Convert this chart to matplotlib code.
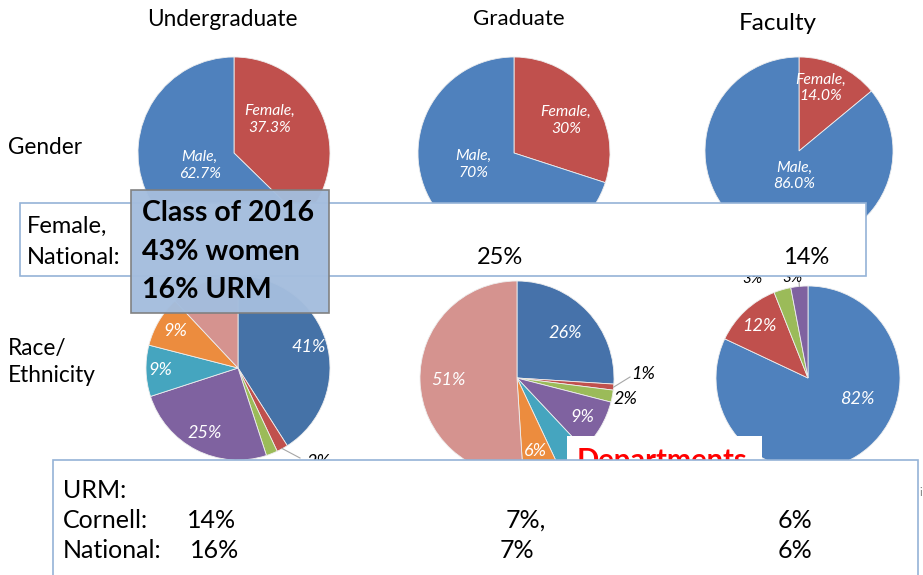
import numpy as np
import matplotlib.pyplot as plt
from matplotlib.patches import Rectangle

plt.rcParams['font.family'] = ['Lato', 'DejaVu Sans']

W, H = 923, 575

# data
columns = ["Undergraduate", "Graduate", "Faculty"]
gender_values = [[37.3, 62.7], [30, 70], [14.0, 86.0]]
gender_labels = [["Female,\n37.3%", "Male,\n62.7%"],
                 ["Female,\n30%", "Male,\n70%"],
                 ["Female,\n14.0%", "Male,\n86.0%"]]

race_ug = [41, 2, 2, 25, 9, 9, 12]
race_grad = [26, 1, 2, 9, 5, 6, 51]
race_fac = [82, 12, 3, 3]

female_national = ["", "25%", "14%"]
urm_cornell = ["14%", "7%,", "6%"]
urm_national = ["16%", "7%", "6%"]
class_2016 = ["Class of 2016", "43% women", "16% URM"]

blue = '#4f81bd'
red = '#c0504d'
green = '#9bbb59'
purple = '#7f62a0'
teal = '#45a5bf'
orange = '#ec8c3e'
pink = '#d5938f'


def Y(py):
    return H - py


fig = plt.figure(figsize=(W / 100, H / 100), dpi=100)
ax = fig.add_axes([0, 0, 1, 1])


def pie(vals, colors, cx, cy, r):
    wedges, _ = ax.pie(vals, colors=colors, startangle=90, counterclock=False,
                       center=(cx, Y(cy)), radius=r,
                       wedgeprops=dict(edgecolor='#eeeeee', linewidth=0.6))
    for w in wedges:
        w.set_zorder(1)
    return wedges


def put(w, cx, cy, r, d, txt, dth=0, color='white', size=13):
    th = np.deg2rad((w.theta1 + w.theta2) / 2 + dth)
    ax.text(cx + r * d * np.cos(th), Y(cy) + r * d * np.sin(th), txt,
            color=color, style='italic', fontsize=size,
            ha='center', va='center', zorder=2, linespacing=1.25)


def lead(w, cx, cy, r, x2, y2, txt, tx, ty, size=13):
    th = np.deg2rad((w.theta1 + w.theta2) / 2)
    x1, y1 = cx + r * np.cos(th), Y(cy) + r * np.sin(th)
    ax.plot([x1, x2], [y1, Y(y2)], color='#a6a6a6', lw=0.8, zorder=2)
    ax.text(tx, Y(ty), txt, style='italic', fontsize=size,
            ha='center', va='center', zorder=2)


# gender pies
gpos = [(234, 153, 96), (514, 153, 96), (799, 151, 94)]
gdist = [(0.51, 0.38), (0.64, 0.44), (0.71, 0.27)]
gshift = [(20, -3), (-4, -20), (6, 14)]
for vals, labs, (cx, cy, r), d, s in zip(gender_values, gender_labels, gpos, gdist, gshift):
    ws = pie(vals, [red, blue], cx, cy, r)
    for w, t, dd, ss in zip(ws, labs, d, s):
        put(w, cx, cy, r, dd, t, ss, size=11.3)

# race pies
cx, cy, r = 238, 368, 92
ws = pie(race_ug, ['#4572a7', red, green, purple, teal, orange, pink], cx, cy, r)
for i, d in [(0, 0.8), (3, 0.79), (4, 0.85), (5, 0.79)]:
    put(ws[i], cx, cy, r, d, f"{race_ug[i]}%")
lead(ws[1], cx, cy, r, 300, 458, f"{race_ug[1]}%", 318, 462)

cx, cy, r = 517, 378, 97
ws = pie(race_grad, ['#4672aa', red, green, purple, teal, orange, pink], cx, cy, r)
for i, d in [(0, 0.68), (3, 0.78), (5, 0.78), (6, 0.71)]:
    put(ws[i], cx, cy, r, d, f"{race_grad[i]}%")
lead(ws[1], cx, cy, r, 630, 377, f"{race_grad[1]}%", 643, 374)
put(ws[2], cx, cy, r, 1.14, f"{race_grad[2]}%", color='black')

cx, cy, r = 808, 378, 92
ws = pie(race_fac, [blue, red, green, purple], cx, cy, r)
put(ws[0], cx, cy, r, 0.58, f"{race_fac[0]}%", dth=35)
put(ws[1], cx, cy, r, 0.77, f"{race_fac[1]}%")
lead(ws[3], cx, cy, r, 799, 281, f"{race_fac[3]}%", 792, 278, size=11)
ax.text(752, Y(279), f"{race_fac[2]}%", style='italic', fontsize=11,
        ha='center', va='center', zorder=2)

# column and row headings
ax.text(222, Y(19), columns[0], fontsize=16.3, ha='center', va='center')
ax.text(519, Y(19), columns[1], fontsize=16, ha='center', va='center')
ax.text(778, Y(23), columns[2], fontsize=17.5, ha='center', va='center')
ax.text(8, Y(147), "Gender", fontsize=16.3, va='center')
ax.text(8, Y(362), "Race/\nEthnicity", fontsize=16.3, va='center', linespacing=1.3)

# female national box
ax.add_patch(Rectangle((20, Y(276)), 846, 73, facecolor='white',
                       edgecolor='#95b3d7', lw=1.2, zorder=5))
ax.text(27, Y(226), "Female,", fontsize=17, va='center', zorder=6)
ax.text(27, Y(258), "National:", fontsize=17, va='center', zorder=6)
for x, t in zip([230, 500, 806], female_national):
    ax.text(x, Y(257), t, fontsize=17, ha='center', va='center', zorder=6)

# class of 2016 box
ax.add_patch(Rectangle((131, Y(313)), 198, 123, facecolor='#a4bddd',
                       edgecolor='#7f7f7f', lw=1.2, zorder=7, alpha=0.97))
for yy, t in zip([213, 252, 290], class_2016):
    ax.text(142, Y(yy), t, fontsize=20.5, fontweight='bold', va='center', zorder=8)

# departments box (partly hidden)
ax.add_patch(Rectangle((567, Y(462)), 195, 26, facecolor='white', lw=0, zorder=3))
ax.text(577, Y(469), "Departments", color='#ff0000', fontsize=21,
        fontweight='bold', va='baseline', zorder=4)

# URM box
ax.add_patch(Rectangle((53, Y(580)), 865, 120, facecolor='white',
                       edgecolor='#95b3d7', lw=1.2, zorder=9))
ax.text(63, Y(490), "URM:", fontsize=18, va='center', zorder=10)
ax.text(63, Y(520), "Cornell:", fontsize=18, va='center', zorder=10)
ax.text(63, Y(550), "National:", fontsize=18, va='center', zorder=10)
for x, t in zip([212, 506, 795], urm_cornell):
    ax.text(x, Y(520), t, fontsize=18, ha='left' if t.endswith(',') else 'center',
            va='center', zorder=10)
for x, t in zip([215, 517, 795], urm_national):
    ax.text(x, Y(550), t, fontsize=18, ha='center', va='center', zorder=10)
ax.text(919, Y(493), "i", fontsize=8, color='#808080', va='center', zorder=10)

ax.set_xlim(0, W)
ax.set_ylim(0, H)
ax.set_aspect('equal')
ax.axis('off')
fig.savefig('out.png', dpi=100)
